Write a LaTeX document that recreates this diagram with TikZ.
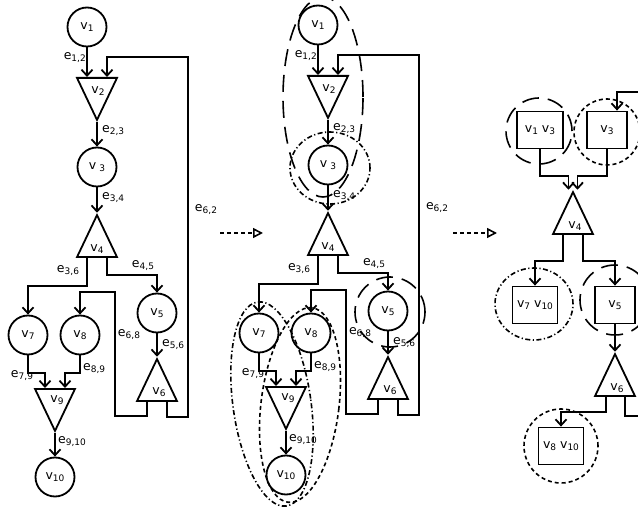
\documentclass[tikz,border=0pt]{standalone}
\usepackage{fontspec}
\setmainfont{DejaVu Sans}
\usetikzlibrary{arrows.meta,shapes.geometric,calc}
\newcommand{\glabfont}{\fontsize{12.5}{14}\selectfont}
\newcommand{\gsub}[1]{{\fontsize{9}{9}\selectfont\raisebox{-2pt}{#1}}}
\tikzset{
  gvtx/.style={draw,circle,line width=1.8pt,minimum size=39pt,inner sep=0pt,font=\glabfont},
  gtri/.style={draw,line width=1.8pt,isosceles triangle,isosceles triangle stretches,inner sep=0pt,minimum width=40pt,minimum height=42pt},
  gtriU/.style={gtri,shape border rotate=90},
  gtriD/.style={gtri,shape border rotate=270},
  gbox/.style={draw,line width=1.8pt,minimum height=37pt,inner sep=0pt,font=\glabfont},
  gedge/.style={line width=1.8pt,-{Straight Barb[length=6pt,width=11pt]}},
  gline/.style={line width=1.8pt},
  glab/.style={font=\glabfont,inner sep=0pt},
  ggrpL/.style={line width=1.6pt,dash pattern=on 17pt off 9pt},
  ggrpD/.style={line width=1.6pt,dash pattern=on 4pt off 3pt},
  ggrpDD/.style={line width=1.6pt,dash pattern=on 5pt off 2.5pt on 1.2pt off 2.5pt},
  gnext/.style={line width=1.6pt,dash pattern=on 4pt off 3pt,-{Triangle[open,length=10pt,width=10pt]}},
}
\begin{document}
\begin{tikzpicture}[x=1pt,y=-1pt]
\useasboundingbox (0,0) rectangle (638,510);
\clip (0,0) rectangle (638,510);
% ---- panels 1 and 2: the same graph, the second shifted
\foreach \P/\PX/\PY in {a/0/0,b/231/2}{
\begin{scope}[xshift=\PX pt,yshift=\PY pt]
  % vertices
  \node[gvtx] (v1\P) at (87,27) {v\gsub{1}};
  \node[gtriD,anchor=north] (v2\P) at (97,77) {};
  \node[glab] (n2\P) at ([xshift=1pt,yshift=-14pt]v2\P.north) {v\gsub{2}};
  \node[gvtx] (v3\P) at (97,167) {v\hspace{3pt}\gsub{3}};
  \node[gtriU,anchor=south] (v4\P) at (97,258) {};
  \node[glab] (n4\P) at ([yshift=9pt]v4\P.south) {v\gsub{4}};
  \node[gvtx] (v5\P) at (157,313) {v\gsub{5}};
  \node[gtriU,anchor=south] (v6\P) at (157,402) {};
  \node[glab] (n6\P) at ([xshift=2pt,yshift=10pt]v6\P.south) {v\gsub{6}};
  \node[gvtx] (v7\P) at (28,335) {v\gsub{7}};
  \node[gvtx] (v8\P) at (80,335) {v\gsub{8}};
  \node[gtriD,anchor=north] (v9\P) at (55,388) {};
  \node[glab] (n9\P) at ([xshift=2pt,yshift=-12pt]v9\P.north) {v\gsub{9}};
  \node[gvtx] (v10\P) at (55,477) {v\gsub{10}};
  % edges
  \draw[gedge] (v1\P) -- (v1\P |- v2\P.north);
  \draw[gedge] (v2\P.south) -- (v3\P);
  \draw[gedge] (v3\P) -- (v4\P.north);
  \draw[gedge] ([xshift=-10pt]v4\P.south) -- ++(0,28) -| (v7\P);
  \draw[gedge] ([xshift=10pt]v4\P.south) -- ++(0,17) -| (v5\P);
  \draw[gedge] (v5\P) -- (v6\P.north);
  \draw[gedge] ([xshift=10pt]v6\P.south) -- ++(0,15) -| (188,57) -| ([xshift=10pt]v2\P.north);
  \draw[gedge] ([xshift=-10pt]v6\P.south) -- ++(0,14) -| (115,292) -| (v8\P);
  \draw[gedge] (v7\P.south) -- ++(0,18) -| ([xshift=-10pt]v9\P.north);
  \draw[gedge] (v8\P.south) -- ++(0,18) -| ([xshift=10pt]v9\P.north);
  \draw[gedge] (v9\P.south) -- (v10\P);
  % edge labels
  \node[glab,anchor=east] (e12\P) at (86,58) {e\gsub{1,2}};
  \node[glab,anchor=west] (e23\P) at (102,131) {e\gsub{2,3}};
  \node[glab,anchor=west] (e34\P) at (102,198) {e\gsub{3,4}};
  \node[glab] (e62\P) at (206,210) {e\gsub{6,2}};
  \node[glab] (e36\P) at (68,271) {e\gsub{3,6}};
  \node[glab] (e45\P) at (143,266) {e\gsub{4,5}};
  \node[glab] (e68\P) at (129,335) {e\gsub{6,8}};
  \node[glab,anchor=west] (e56\P) at (162,345) {e\gsub{5,6}};
  \node[glab] (e79\P) at (22,376) {e\gsub{7,9}};
  \node[glab,anchor=west] (e89\P) at (83,369) {e\gsub{8,9}};
  \node[glab,anchor=west] (e910\P) at (58,442) {e\gsub{9,10}};
\end{scope}}
% ---- panel 2: the groups
\draw[ggrpL] (323,97) ellipse [x radius=40pt,y radius=100pt];
\draw[ggrpDD] (330,168) ellipse [x radius=40pt,y radius=36pt];
\draw[ggrpL] (390,312) circle [radius=35pt];
\draw[ggrpDD,rotate around={8:(272,404)}] (272,404) ellipse [x radius=39pt,y radius=103pt];
\draw[ggrpD,rotate around={-7:(300,405)}] (300,405) ellipse [x radius=39pt,y radius=98pt];
% ---- panel 3: the merged graph
\node[gbox,minimum width=46pt] (w13) at (540,130) {v\gsub{1} v\gsub{3}};
\node[gbox,minimum width=40pt] (w3) at (607,130) {v\gsub{3}};
\node[gtriU,anchor=south] (w4) at (573,235) {};
\node[glab] (m4) at ([xshift=2pt,yshift=9pt]w4.south) {v\gsub{4}};
\node[gbox,minimum width=45pt] (w710) at (535,305) {v\gsub{7} v\gsub{10}};
\node[gbox,minimum width=40pt] (w5) at (615,305) {v\gsub{5}};
\node[gtriU,anchor=south] (w6) at (615,397) {};
\node[glab] (m6) at ([xshift=2pt,yshift=9pt]w6.south) {v\gsub{6}};
\node[gbox,minimum width=45pt] (w810) at (561,446) {v\gsub{8} v\gsub{10}};
\coordinate (r62) at (650,92);
\draw[gedge] (w13.south) -- ++(0,27) -| ([xshift=-4.5pt]w4.north);
\draw[gedge] (w3.south) -- ++(0,27) -| ([xshift=4.5pt]w4.north);
\draw[gedge] ([xshift=-10pt]w4.south) -- ++(0,26) -| (w710);
\draw[gedge] ([xshift=10pt]w4.south) -- ++(0,26) -| (w5);
\draw[gedge] (w5) -- (w6.north);
\draw[gedge] ([xshift=-9pt]w6.south) -- ++(0,15) -| (w810);
\draw[gline] ([xshift=10pt]w6.south) -- ++(0,19) -- ++(40,0);
\draw[gedge] (r62) -| ([xshift=10pt]w3.north);
% groups
\draw[ggrpL] (539,131) circle [radius=33pt];
\draw[ggrpD] (607,132) circle [radius=33pt];
\draw[ggrpDD] (534,304) ellipse [x radius=39pt,y radius=36pt];
\draw[ggrpL] (615,300) circle [radius=35pt];
\draw[ggrpD] (561,446) circle [radius=37pt];
% ---- the steps between panels
\coordinate (s1) at (220,233);
\coordinate (s2) at (263,233);
\coordinate (s3) at (453,233);
\coordinate (s4) at (497,233);
\draw[gnext] (s1) -- (s2);
\draw[gnext] (s3) -- (s4);
\end{tikzpicture}
\end{document}
